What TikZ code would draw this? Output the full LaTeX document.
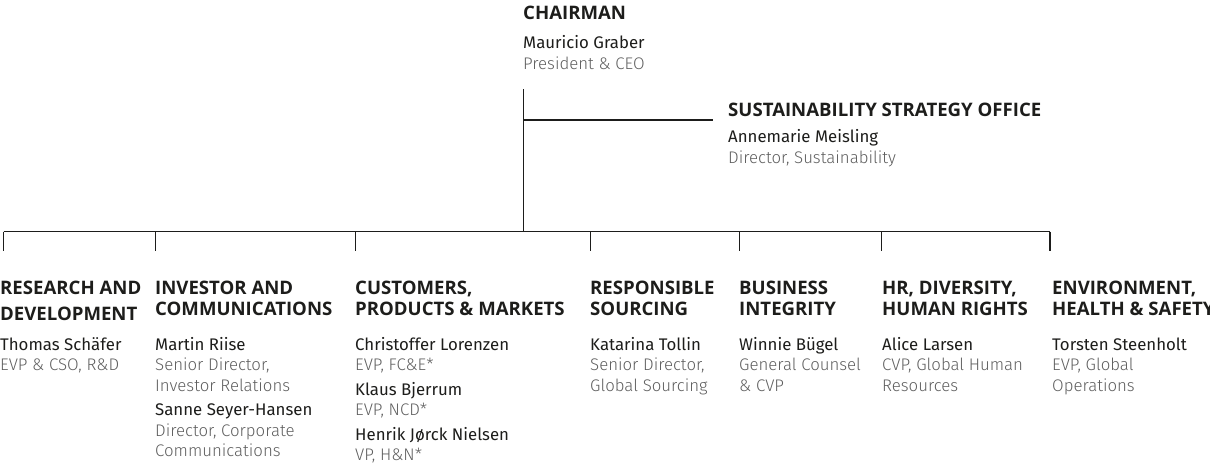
\documentclass[tikz,border=0pt]{standalone}
\usepackage{fontspec}
\setmainfont{Fira Sans}
\newfontfamily\headfont{Open Sans}
\newfontfamily\lightfont{Fira Sans}[UprightFont={* Light}]
\usepackage{xcolor}
\usepackage{tikz}
\usetikzlibrary{positioning,calc}
\definecolor{ink}{HTML}{1D1D1B}
\definecolor{rolegray}{HTML}{5E5E5E}
\newcommand{\who}[1]{\textcolor{ink}{#1}}
\newcommand{\job}[1]{\textcolor{rolegray}{\lightfont #1}}
\tikzset{
    org-head/.style={
        anchor=base west,
        inner sep=0pt,
        align=left,
        text=ink,
        font=\headfont\bfseries\fontsize{18.6}{21}\selectfont
    },
    org-people/.style={
        anchor=base west,
        inner sep=0pt,
        align=left,
        font=\fontsize{16.8}{20.5}\selectfont
    },
    every edge/.style={
        draw=ink,
        -,
        line width=1.1pt
    },
}

\begin{document}
\begin{tikzpicture}[x=1pt,y=1pt]
        \useasboundingbox (0,0) rectangle (1210,-467);
        % top of the chart (base = last line)
        \node [org-head] (chair) at (523,-19.5) {CHAIRMAN};
        \node [org-people] (chair-p) at (523,-69) {\who{Mauricio Graber}\\\job{President \& CEO}};
        \node [org-head] (sso) at (728,-116.5) {SUSTAINABILITY STRATEGY OFFICE};
        \node [org-people] (sso-p) at (728,-163) {\who{Annemarie Meisling}\\\job{Director, Sustainability}};
        \coordinate (trunk-top) at (523.5,-89);
        \coordinate (trunk-sso) at (523.5,-120);
        \coordinate (sso-end) at (713,-120);
        \coordinate (trunk-bot) at (523.5,-231.5);
        % the bar and its ticks
        \coordinate (bar-rd) at (3.5,-231.5);
        \coordinate (bar-ic) at (155.5,-231.5);
        \coordinate (bar-cpm) at (355.5,-231.5);
        \coordinate (bar-rs) at (590.5,-231.5);
        \coordinate (bar-bi) at (739.5,-231.5);
        \coordinate (bar-hr) at (881.5,-231.5);
        \coordinate (bar-ehs) at (1050,-231.5);
        \coordinate (tick-rd) at (3.5,-251);
        \coordinate (tick-ic) at (155.5,-251);
        \coordinate (tick-cpm) at (355.5,-251);
        \coordinate (tick-rs) at (590.5,-251);
        \coordinate (tick-bi) at (739.5,-251);
        \coordinate (tick-hr) at (881.5,-251);
        \coordinate (tick-ehs) at (1050,-251);
        % departments
        \node [org-head] (rd) at (0,-320) {RESEARCH AND\\[5pt]DEVELOPMENT};
        \node [org-head] (ic) at (155,-315) {INVESTOR AND\\COMMUNICATIONS};
        \node [org-head] (cpm) at (355,-315) {CUSTOMERS,\\PRODUCTS \& MARKETS};
        \node [org-head] (rs) at (590,-315) {RESPONSIBLE\\SOURCING};
        \node [org-head] (bi) at (739,-315) {BUSINESS\\INTEGRITY};
        \node [org-head] (hr) at (882,-315) {HR, DIVERSITY,\\HUMAN RIGHTS};
        \node [org-head] (ehs) at (1052,-315) {ENVIRONMENT,\\HEALTH \& SAFETY};
        % people
        \node [org-people] (rd-p) at (0,-370.5) {\who{Thomas Schäfer}\\\job{EVP \& CSO, R\&D}};
        \node [org-people] (ic-p) at (155,-456.5) {\who{Martin Riise}\\\job{Senior Director,}\\\job{Investor Relations}\\[4pt]\who{Sanne Seyer-Hansen}\\\job{Director, Corporate}\\\job{Communications}};
        \node [org-people] (cpm-p) at (355,-460.5) {\who{Christoffer Lorenzen}\\\job{EVP, FC\&E*}\\[4pt]\who{Klaus Bjerrum}\\\job{EVP, NCD*}\\[4pt]\who{Henrik Jørck Nielsen}\\\job{VP, H\&N*}};
        \node [org-people] (rs-p) at (590,-391) {\who{Katarina Tollin}\\\job{Senior Director,}\\\job{Global Sourcing}};
        \node [org-people] (bi-p) at (739,-391) {\who{Winnie Bügel}\\\job{General Counsel}\\\job{\& CVP}};
        \node [org-people] (hr-p) at (882,-391) {\who{Alice Larsen}\\\job{CVP, Global Human}\\\job{Resources}};
        \node [org-people] (ehs-p) at (1052,-391) {\who{Torsten Steenholt}\\\job{EVP, Global}\\\job{Operations}};
        % connectors
        \draw (trunk-top) edge (trunk-bot);
        \draw (trunk-sso) edge (sso-end);
        \draw (bar-rd) edge (bar-ehs);
        \draw (bar-rd) edge (tick-rd);
        \draw (bar-ic) edge (tick-ic);
        \draw (bar-cpm) edge (tick-cpm);
        \draw (bar-rs) edge (tick-rs);
        \draw (bar-bi) edge (tick-bi);
        \draw (bar-hr) edge (tick-hr);
        \draw (bar-ehs) edge (tick-ehs);
    \end{tikzpicture}
\end{document}
